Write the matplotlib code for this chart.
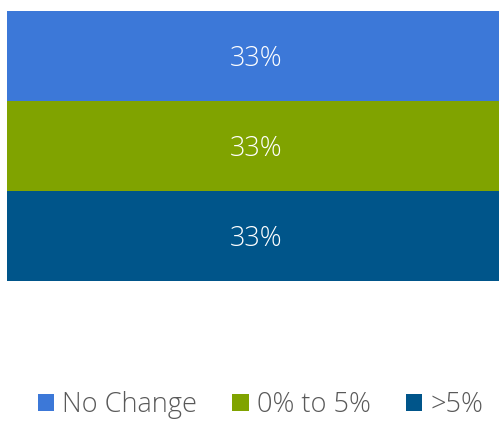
import matplotlib
matplotlib.use("Agg")
import matplotlib.pyplot as plt
from matplotlib.patches import Patch

# data
categories = ["No Change", "0% to 5%", ">5%"]
values = [33.33, 33.33, 33.33]
labels = ["33%", "33%", "33%"]
colors = ["#3C78D8", "#80A300", "#00558A"]

plt.rcParams['font.family'] = ['Open Sans', 'DejaVu Sans']

fig = plt.figure(figsize=(4.99, 4.21), dpi=100)
ax = fig.add_axes([7/499, 1 - 281/421, 492/499, 270/421])

# stack from the bottom: last category at the bottom
bottom = 0
for cat, val, lab, col in reversed(list(zip(categories, values, labels, colors))):
    ax.bar(0, val, width=1, bottom=bottom, color=col, label=cat)
    ax.text(0.007, bottom + val / 2, lab, ha='center', va='center_baseline',
            color='white', fontsize=19.5, fontweight='light')
    bottom += val

ax.set_xlim(-0.5, 0.5)
ax.set_ylim(0, bottom)
ax.axis('off')

handles = [Patch(facecolor=c, edgecolor='none') for c in colors]
fig.legend(handles, categories, loc='center', bbox_to_anchor=(0.522, 16/421),
           ncol=3, frameon=False, prop={'size': 19.5, 'weight': 'light'},
           labelcolor='#595959',
           handlelength=0.6, handleheight=0.6, handletextpad=0.3,
           columnspacing=1.3, borderpad=0)

fig.savefig("out.png", dpi=100)
